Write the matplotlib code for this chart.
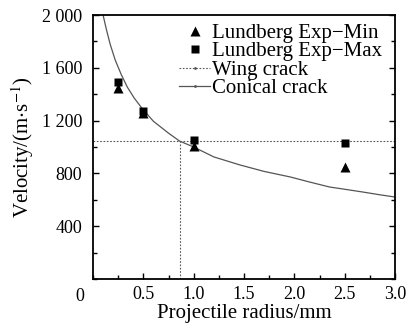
import numpy as np
import matplotlib.pyplot as plt
from matplotlib.lines import Line2D
from matplotlib.ticker import MultipleLocator, FuncFormatter

plt.rcParams['font.family'] = ['Liberation Serif', 'DejaVu Serif']
plt.rcParams['mathtext.fontset'] = 'stix'

# experimental points (projectile radius in mm, velocity in m/s)
exp_radius = [0.25, 0.5, 1.0, 2.5]
exp_min = [1448, 1256, 1008, 848]
exp_max = [1492, 1273, 1052, 1030]

# wing crack threshold
wing_radius = 0.86
wing_velocity = 1045

# conical crack curve
cone_radius = [0.10, 0.13, 0.17, 0.22, 0.28, 0.34, 0.41, 0.49, 0.60, 0.75, 0.86,
               1.0, 1.2, 1.46, 1.7, 1.96, 2.15, 2.35, 2.5, 2.68, 2.85, 3.0]
cone_velocity = [2000, 1900, 1780, 1660, 1550, 1455, 1370, 1290, 1195, 1105, 1045,
                 1000, 925, 864, 815, 773, 735, 697, 680, 659, 638, 621]

fig = plt.figure(figsize=(4.09, 3.32), dpi=100)
ax = fig.add_axes([0.2274, 0.1596, 0.7384, 0.7952])

ax.plot(cone_radius, cone_velocity, color='#555555', lw=0.9)
ax.plot([0, 3.0], [wing_velocity, wing_velocity], color='#555555', lw=0.8,
        linestyle=(0, (1.5, 1.5)))
ax.plot([wing_radius, wing_radius], [0, wing_velocity], color='#555555', lw=0.8,
        linestyle=(0, (1.5, 1.5)))
ax.plot(exp_radius, exp_min, '^', color='black', ms=7, mec='none')
ax.plot(exp_radius, exp_max, 's', color='black', ms=6, mec='none')

ax.set_xlim(0, 3.0)
ax.set_ylim(0, 2000)
ax.set_xticks([0.5, 1.0, 1.5, 2.0, 2.5, 3.0])
ax.xaxis.set_minor_locator(MultipleLocator(0.25))
ax.set_yticks([400, 800, 1200, 1600, 2000])
ax.yaxis.set_minor_locator(MultipleLocator(200))
ax.yaxis.set_major_formatter(FuncFormatter(
    lambda v, p: f"{int(v):,}".replace(",", " ")))
ax.tick_params(which='both', direction='in', right=True, top=False, width=1,
               labelsize=13)
ax.tick_params(which='major', length=4)
ax.tick_params(which='minor', length=3)
ax.tick_params(axis='y', pad=8)
ax.tick_params(axis='x', pad=5)
for s in ax.spines.values():
    s.set_linewidth(1.3)

ax.annotate("0", xy=(0, 0), xytext=(-9.5, -12.5), textcoords='offset points',
            ha='center', va='center', fontsize=13)

ax.set_xlabel("Projectile radius/mm", fontsize=15, labelpad=1)
ax.set_ylabel(r"Velocity/(m$\cdot$s$^{-1}$)", fontsize=15, labelpad=4)

handles = [
    Line2D([], [], marker='^', color='black', ls='none', ms=7, mec='none'),
    Line2D([], [], marker='s', color='black', ls='none', ms=6, mec='none'),
    Line2D([], [], color='#555555', lw=0.8, ls=(0, (1.5, 1.5)), marker='.', ms=2),
    Line2D([], [], color='#555555', lw=0.9, marker='.', ms=2),
]
labels = ["Lundberg Exp\u2212Min", "Lundberg Exp\u2212Max", "Wing crack", "Conical crack"]
ax.legend(handles, labels, loc='upper right', frameon=False, fontsize=15,
          handlelength=1.5, handletextpad=0.1, labelspacing=-0.06,
          borderaxespad=0.2, bbox_to_anchor=(1.0, 1.015))

fig.savefig("out.png", dpi=100)
